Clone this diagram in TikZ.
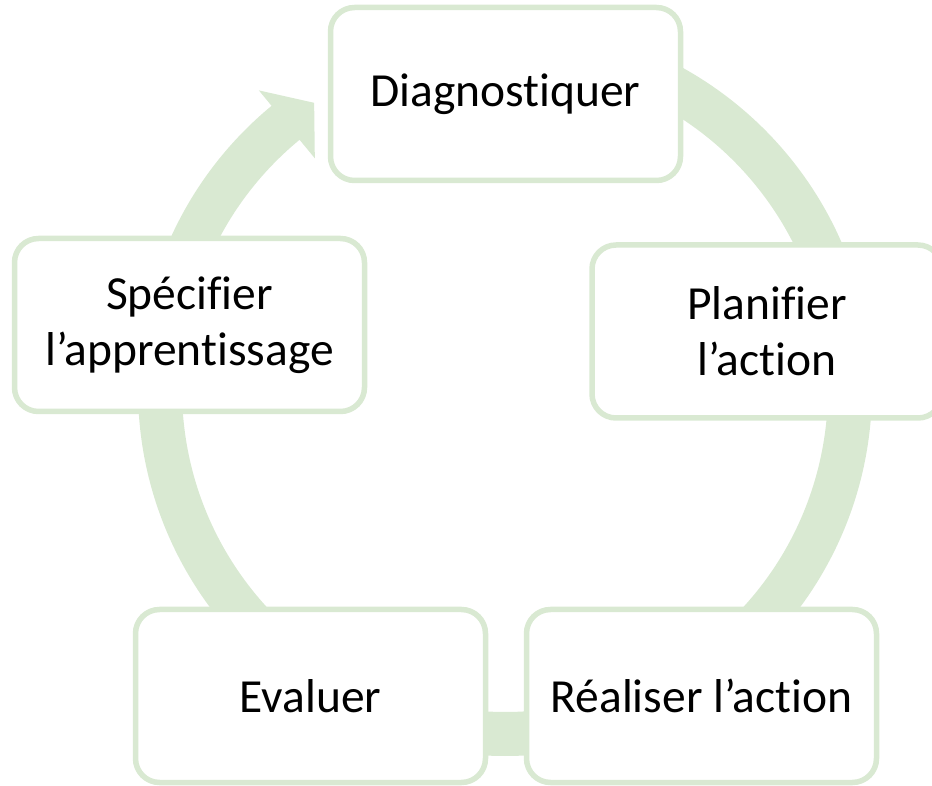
\documentclass[tikz,border=0pt]{standalone}
\usepackage{fontspec}
\setmainfont[Ligatures=NoCommon]{Carlito}
\definecolor{ringgreen}{RGB}{217,233,210}
\tikzset{
  cyclebox/.style={draw=ringgreen, line width=5.5pt, fill=white, rounded corners=24pt,
    minimum width=350pt, minimum height=173pt, align=center,
    font=\fontsize{47.5pt}{56pt}\selectfont, inner sep=0pt},
  ring/.style={fill=ringgreen}
}
\begin{document}
\begin{tikzpicture}[x=1pt,y=1pt]
\useasboundingbox (0,0) rectangle (932,785);
% ring with arrowhead
\fill[ring, shift={(505,396)}]
  (90:367) arc[start angle=90, end angle=-230.5, radius=367]
  -- (-230.5:387) -- (-236.3:344) -- (-230.5:299) -- (-230.5:323)
  arc[start angle=-230.5, end angle=90, radius=323] -- cycle;
% boxes
\node[cyclebox] (diag) at (505.5,691) {Diagnostiquer};
\node[cyclebox] (plan) at (767,453.5) {Planifier\\l’action};
\node[cyclebox] (real) at (701.5,89) {Réaliser l’action};
\node[cyclebox] (eval) at (310.5,89) {Evaluer};
\node[cyclebox] (spec) at (189.5,460) {Spécifier\\l’apprentissage};
\end{tikzpicture}
\end{document}
